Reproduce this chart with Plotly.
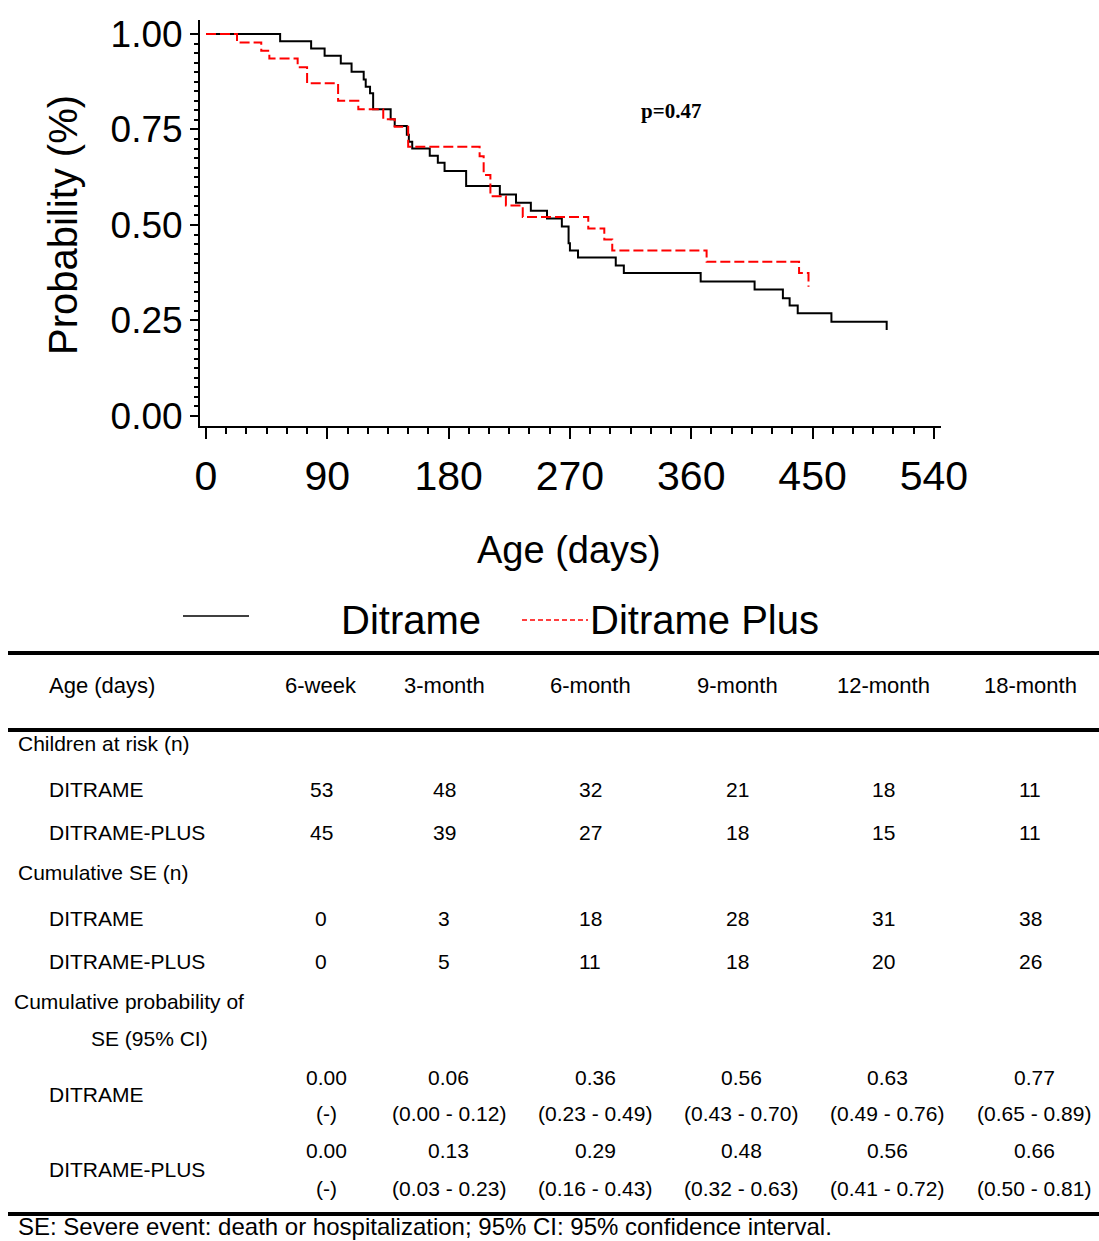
import plotly.graph_objects as go

# ---------------- data ----------------
ditrame_days = [0, 55, 78, 88, 100, 108, 117, 118.5, 121.7, 124, 137, 140, 149, 150.5, 153,
                166, 172, 177, 193, 218, 230, 241, 253, 264, 269, 270, 276, 304, 310, 367,
                407, 428, 433, 439, 464, 505, 505]
ditrame_surv = [1.0, 0.981, 0.962, 0.943, 0.923, 0.901, 0.881, 0.862, 0.845, 0.803, 0.777, 0.759,
                0.736, 0.718, 0.700, 0.681, 0.663, 0.641, 0.602, 0.580, 0.558, 0.537, 0.517,
                0.496, 0.452, 0.433, 0.415, 0.394, 0.374, 0.352, 0.331, 0.308, 0.289, 0.269,
                0.247, 0.247, 0.225]

plus_days = [0, 23, 41, 47, 68, 75, 98, 113, 131.5, 140, 150, 203, 206, 211, 222.5, 235,
             283.6, 295.5, 301.4, 371.4, 440, 447]
plus_surv = [1.0, 0.978, 0.956, 0.936, 0.913, 0.871, 0.825, 0.803, 0.777, 0.757, 0.705, 0.680,
             0.631, 0.575, 0.551, 0.521, 0.491, 0.462, 0.433, 0.404, 0.374, 0.338]

x_ticks = [0, 90, 180, 270, 360, 450, 540]
y_ticks = [0.0, 0.25, 0.5, 0.75, 1.0]
y_tick_labels = ["0.00", "0.25", "0.50", "0.75", "1.00"]
p_value_text = "p=0.47"

series_names = ["Ditrame", "Ditrame Plus"]

table_columns = ["6-week", "3-month", "6-month", "9-month", "12-month", "18-month"]
risk_ditrame = [53, 48, 32, 21, 18, 11]
risk_plus = [45, 39, 27, 18, 15, 11]
cumse_ditrame = [0, 3, 18, 28, 31, 38]
cumse_plus = [0, 5, 11, 18, 20, 26]
prob_ditrame = ["0.00", "0.06", "0.36", "0.56", "0.63", "0.77"]
ci_ditrame = ["(-)", "(0.00 - 0.12)", "(0.23 - 0.49)", "(0.43 - 0.70)", "(0.49 - 0.76)", "(0.65 - 0.89)"]
prob_plus = ["0.00", "0.13", "0.29", "0.48", "0.56", "0.66"]
ci_plus = ["(-)", "(0.03 - 0.23)", "(0.16 - 0.43)", "(0.32 - 0.63)", "(0.41 - 0.72)", "(0.50 - 0.81)"]
footnote = "SE: Severe event: death or hospitalization; 95% CI: 95% confidence interval."

# ---------------- layout helpers ----------------
W, H = 1099, 1241
FONT = "Liberation Sans, Arial, sans-serif"


def px(x):
    return x / W


def py(y):
    return 1 - y / H


fig = go.Figure()

fig.add_trace(go.Scatter(x=ditrame_days, y=ditrame_surv, mode="lines", name=series_names[0],
                         line=dict(color="black", width=2, shape="hv"), showlegend=False))
fig.add_trace(go.Scatter(x=plus_days, y=plus_surv, mode="lines", name=series_names[1],
                         line=dict(color="#ff0000", width=2, shape="hv", dash="10px,4px"),
                         showlegend=False))

annotations = []
shapes = []


def text(x, y, s, size=21, anchor="left", yanchor="middle", **kw):
    annotations.append(dict(x=px(x), y=py(y), xref="paper", yref="paper", text=s, showarrow=False,
                            xanchor=anchor, yanchor=yanchor, borderpad=0,
                            font=dict(family=kw.pop("family", FONT), size=size, color="black"), **kw))


# titles
text(63, 225, "Probability (%)", size=40, anchor="center", textangle=-90)
text(569, 550, "Age (days)", size=38, anchor="center")
text(671, 111, "<b>" + p_value_text + "</b>", size=21, anchor="center",
     family="Liberation Serif, Times New Roman, serif")

# legend (manual)
shapes.append(dict(type="line", xref="paper", yref="paper", x0=px(183), x1=px(249), y0=py(616), y1=py(616),
                   line=dict(color="black", width=1.5)))
shapes.append(dict(type="line", xref="paper", yref="paper", x0=px(522), x1=px(588), y0=py(620), y1=py(620),
                   line=dict(color="#ff0000", width=1.5, dash="5px,3px")))
text(340, 620, series_names[0], size=40)
text(589, 620, series_names[1], size=40)

# table rules
for yy in [653, 730, 1214]:
    shapes.append(dict(type="line", xref="paper", yref="paper", x0=px(8), x1=1, y0=py(yy), y1=py(yy),
                       line=dict(color="black", width=4)))

col_n = [321, 444, 590, 737, 883, 1030]
col_p = [326, 449, 595, 741, 887, 1034]

text(48, 685, "Age (days)", size=22)
for c, lab in zip(col_n, table_columns):
    text(c, 685, lab, size=22, anchor="center")

text(17, 744, "Children at risk (n)")
text(48, 789, "DITRAME")
text(48, 832, "DITRAME-PLUS")
for c, a, b in zip(col_n, risk_ditrame, risk_plus):
    text(c, 789, str(a), anchor="center")
    text(c, 832, str(b), anchor="center")

text(17, 872, "Cumulative SE (n)")
text(48, 918, "DITRAME")
text(48, 961, "DITRAME-PLUS")
for c, a, b in zip(col_n, cumse_ditrame, cumse_plus):
    text(c, 918, str(a), anchor="center")
    text(c, 961, str(b), anchor="center")

text(13, 1001, "Cumulative probability of")
text(149, 1038, "SE (95% CI)", anchor="center")
text(48, 1094, "DITRAME")
text(48, 1169, "DITRAME-PLUS")
for c, p1, c1, p2, c2 in zip(col_p, prob_ditrame, ci_ditrame, prob_plus, ci_plus):
    text(c, 1077, p1, anchor="center")
    text(c, 1113, c1, anchor="center")
    text(c, 1150, p2, anchor="center")
    text(c, 1188, c2, anchor="center")

text(17, 1241, footnote, size=24, yanchor="bottom")

y_minor = [i * 0.025 for i in range(41) if i % 10 != 0]

fig.update_layout(
    width=W, height=H, autosize=False,
    margin=dict(l=0, r=0, t=0, b=0, pad=0, autoexpand=False),
    paper_bgcolor="white", plot_bgcolor="white",
    font=dict(family=FONT, color="black"),
    xaxis=dict(domain=[px(200), px(941)], range=[-4.45, 545.3], tickvals=x_ticks,
               ticktext=[str(v) for v in x_ticks], automargin=False,
               showline=True, linecolor="black", linewidth=2, mirror=False,
               ticks="outside", ticklen=11, tickwidth=2, tickcolor="black",
               minor=dict(tickmode="linear", tick0=0, dtick=15, ticks="outside", ticklen=6,
                          tickwidth=1.5, tickcolor="black", showgrid=False),
               showgrid=False, zeroline=False, fixedrange=True,
               tickfont=dict(family=FONT, size=41, color="black"), ticklabelstandoff=2),
    yaxis=dict(domain=[py(426), py(20)], range=[-0.0262, 1.0366], tickvals=y_ticks,
               ticktext=y_tick_labels, automargin=False,
               showline=True, linecolor="black", linewidth=2,
               ticks="outside", ticklen=8, tickwidth=2, tickcolor="black",
               minor=dict(tickmode="array", tickvals=y_minor, ticks="outside", ticklen=4,
                          tickwidth=1.5, tickcolor="black", showgrid=False),
               showgrid=False, zeroline=False, fixedrange=True,
               tickfont=dict(family=FONT, size=37, color="black"), ticklabelstandoff=0),
    annotations=annotations,
    shapes=shapes,
    showlegend=False,
)

fig.write_html(
    "out.html",
    config={"displayModeBar": False, "responsive": False},
    post_script="document.documentElement.style.margin='0';document.body.style.margin='0';"
                "document.body.style.padding='0';document.documentElement.style.overflow='hidden';"
                "document.body.style.overflow='hidden';",
)
